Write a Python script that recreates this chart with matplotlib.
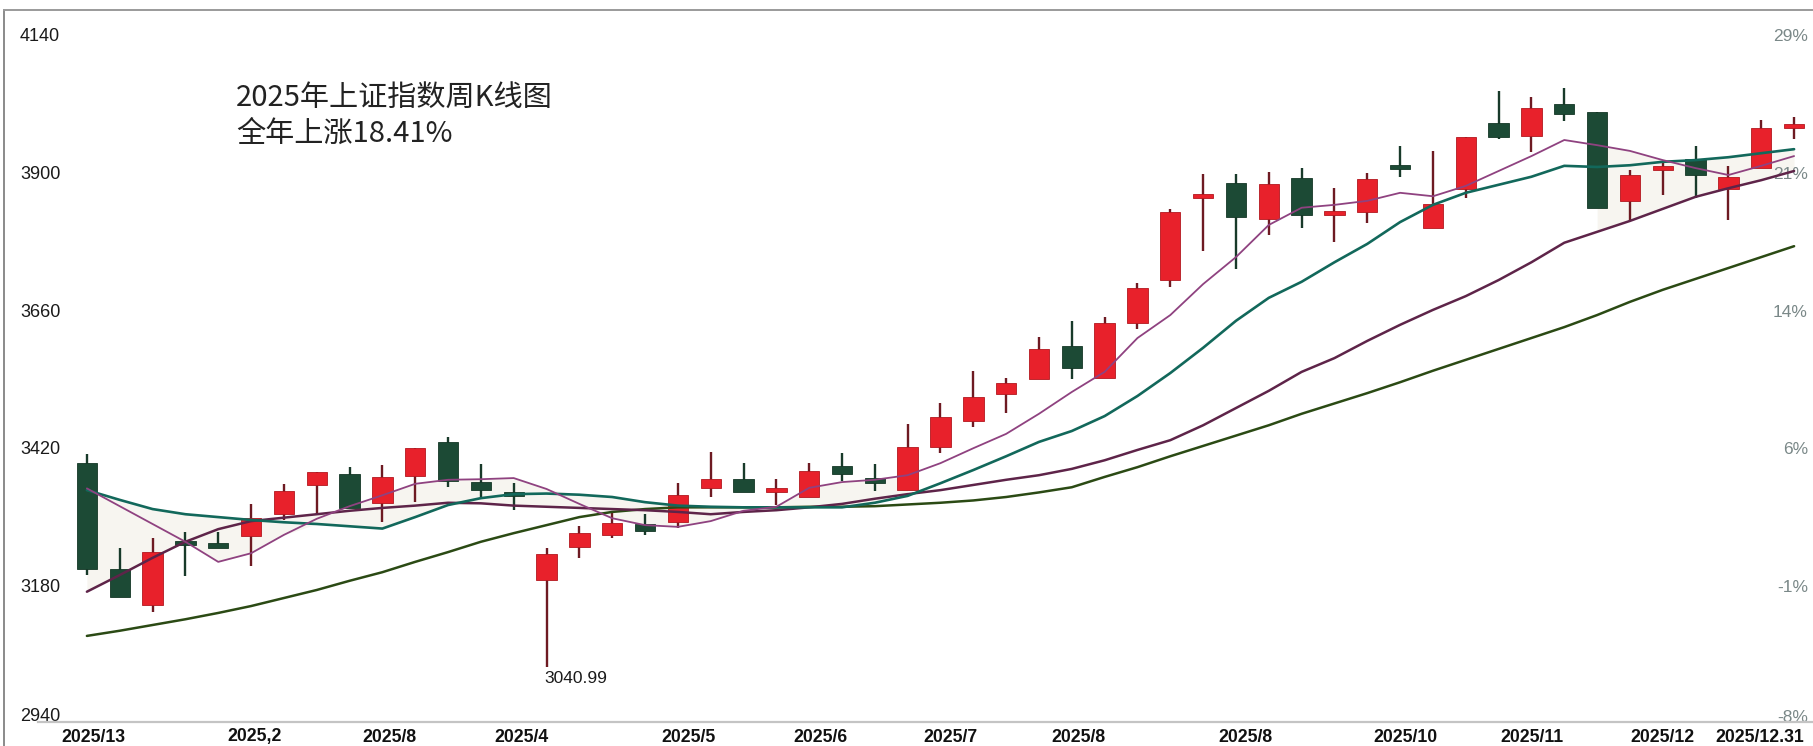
import matplotlib
matplotlib.use("Agg")
import matplotlib.pyplot as plt
import matplotlib.transforms as mtransforms
from matplotlib.patches import Rectangle
from matplotlib.lines import Line2D
import numpy as np

# ---------------- data ----------------
opens = [3396.7, 3213.1, 3149.9, 3258.7, 3257.9, 3270.1, 3308.4, 3358.4, 3377.6, 3327.0,
         3375.1, 3433.8, 3364.1, 3344.1, 3193.4, 3251.4, 3271.8, 3290.5, 3293.9, 3353.2,
         3368.9, 3349.3, 3337.5, 3392.0, 3370.6, 3350.2, 3425.6, 3470.4, 3516.9, 3544.1,
         3601.6, 3545.9, 3640.6, 3716.1, 3861.5, 3885.6, 3821.8, 3893.3, 3831.1, 3834.5,
         3914.2, 3806.7, 3874.6, 3989.1, 3967.5, 4022.2, 4008.8, 3853.7, 3908.6, 3926.4,
         3874.6, 3910.7, 3982.6]
highs = [3412.9, 3248.6, 3266.1, 3277.6, 3277.6, 3325.8, 3360.7, 3381.6, 3390.8, 3394.3,
         3423.9, 3443.1, 3395.5, 3361.9, 3249.7, 3287.5, 3312.4, 3307.9, 3361.9, 3416.9,
         3397.8, 3368.9, 3396.7, 3414.2, 3395.0, 3464.7, 3502.3, 3558.1, 3545.9, 3617.3,
         3644.6, 3652.1, 3711.4, 3839.8, 3900.2, 3900.2, 3903.7, 3911.7, 3876.9, 3903.0,
         3949.5, 3940.3, 3965.7, 4045.9, 4034.4, 4051.1, 4008.8, 3907.7, 3922.2, 3949.5,
         3914.7, 3994.8, 4000.6]
lows = [3202.1, 3164.3, 3138.2, 3200.9, 3249.2, 3217.8, 3297.9, 3308.4, 3319.4, 3295.0,
        3329.8, 3356.0, 3337.5, 3315.4, 3040.99, 3231.2, 3266.1, 3271.8, 3283.5, 3338.5,
        3347.3, 3324.1, 3337.5, 3366.4, 3349.0, 3350.2, 3414.2, 3460.5, 3483.8, 3544.1,
        3543.6, 3545.9, 3630.2, 3704.4, 3766.6, 3734.7, 3794.5, 3807.2, 3781.8, 3815.4,
        3896.0, 3806.7, 3858.4, 3961.2, 3939.6, 3993.6, 3842.0, 3819.4, 3864.2, 3859.5,
        3820.6, 3910.7, 3961.7]
closes = [3212.1, 3164.3, 3242.7, 3256.1, 3249.2, 3302.0, 3349.0, 3381.6, 3319.4, 3373.4,
          3423.9, 3366.4, 3350.2, 3342.4, 3238.2, 3274.8, 3292.2, 3279.3, 3341.5, 3368.9,
          3347.3, 3351.1, 3383.8, 3378.1, 3361.9, 3425.6, 3477.9, 3512.8, 3536.1, 3596.4,
          3562.2, 3640.6, 3701.6, 3834.0, 3864.2, 3825.3, 3883.3, 3829.3, 3833.3, 3891.5,
          3910.7, 3847.9, 3965.7, 3965.7, 4015.2, 4005.3, 3842.0, 3898.9, 3912.4, 3898.9,
          3896.0, 3980.4, 3986.1]

ma5 = [3353, 3322, 3291, 3260, 3225, 3240, 3272, 3300, 3322, 3341,
       3361, 3368, 3369, 3371, 3352, 3326, 3301, 3289, 3286, 3296,
       3314, 3321, 3354, 3364, 3368, 3376, 3397, 3423, 3448, 3483,
       3521, 3556, 3615, 3655, 3709, 3756, 3812, 3842, 3847, 3854,
       3868, 3862, 3880, 3906, 3932, 3960, 3951, 3941, 3925, 3911,
       3899, 3915, 3932]
ma10 = [3350, 3333, 3317, 3308, 3303, 3298, 3294, 3291, 3287, 3283,
        3303, 3324, 3336, 3343, 3344, 3342, 3338, 3329, 3323, 3321,
        3320, 3320, 3320, 3320, 3328, 3340, 3362, 3385, 3409, 3434,
        3453, 3479, 3514, 3554, 3598, 3645, 3685, 3713, 3747, 3779,
        3817, 3847, 3868, 3882, 3896, 3915, 3913, 3916, 3922, 3925,
        3930, 3937, 3944]
ma20 = [3173, 3202, 3232, 3260, 3282, 3296, 3302, 3308, 3314, 3319,
        3323, 3328, 3327, 3323, 3321, 3319, 3317, 3315, 3312, 3308,
        3312, 3315, 3320, 3326, 3335, 3343, 3350, 3359, 3368, 3376,
        3387, 3402, 3420, 3437, 3463, 3493, 3523, 3556, 3580, 3610,
        3638, 3664, 3688, 3716, 3747, 3781, 3800, 3819, 3840, 3861,
        3876, 3890, 3906]
ma60 = [3096, 3105, 3115, 3125, 3136, 3148, 3162, 3176, 3192, 3207,
        3225, 3242, 3260, 3275, 3289, 3303, 3312, 3317, 3320, 3320,
        3320, 3320, 3321, 3321, 3322, 3325, 3328, 3332, 3338, 3346,
        3355, 3373, 3390, 3409, 3427, 3445, 3463, 3483, 3501, 3519,
        3538, 3558, 3577, 3596, 3615, 3634, 3655, 3678, 3699, 3718,
        3737, 3756, 3775]

y_ticks = [4140, 3900, 3660, 3420, 3180, 2940]
y_tick_labels = ["4140", "3900", "3660", "3420", "3180", "2940"]
pct_labels = ["29%", "21%", "14%", "6%", "-1%", "-8%"]
x_labels = ["2025/13", "2025,2", "2025/8", "2025/4", "2025/5", "2025/6", "2025/7",
            "2025/8", "2025/8", "2025/10", "2025/11", "2025/12", "2025/12.31"]
x_label_pos = [0.19, 5.12, 9.20, 13.25, 18.31, 22.33, 26.29, 30.19, 35.28, 40.15,
               44.02, 47.98, 50.96]
title_lines = ["2025年上证指数周K线图", "全年上涨18.41%"]
low_label = "3040.99"

# ---------------- figure ----------------
W, H = 1813, 746
fig = plt.figure(figsize=(W / 100, H / 100), dpi=100)
fig.patch.set_facecolor("white")

ax_top_px, ax_bot_px, ax_left_px = 10, 722, 4
ax = fig.add_axes([ax_left_px / W, 1 - ax_bot_px / H, 1 - ax_left_px / W,
                   (ax_bot_px - ax_top_px) / H])
ax.set_xlim(-2.525, 52.576)
ax.set_ylim(2946.0, 4186.5)
ax.set_axis_off()

num_font = ["Liberation Sans", "DejaVu Sans"]
cjk_font = ["Noto Sans CJK SC", "DejaVu Sans"]

RED = "#e8212b"
RED_EDGE = "#b3171e"
RED_WICK = "#6e1a22"
GREEN = "#1c4a35"
GREEN_EDGE = "#143726"
GREEN_WICK = "#183a2a"

x = np.arange(len(opens))
body_w = 0.62
min_body = 7.0

# light speckled band between averages
ma5a, ma10a, ma20a = np.array(ma5), np.array(ma10), np.array(ma20)
seg1 = slice(0, 26)
ax.fill_between(x[seg1], np.maximum.reduce([ma5a, ma10a, ma20a])[seg1],
                np.minimum.reduce([ma5a, ma10a, ma20a])[seg1],
                color="#f7f5f0", lw=0, zorder=1)
seg2 = slice(46, 53)
ax.fill_between(x[seg2], np.maximum(ma5a, ma10a)[seg2], ma20a[seg2],
                color="#f7f5f0", lw=0, zorder=1)

for i, (o, h, l, c) in enumerate(zip(opens, highs, lows, closes)):
    up = c >= o
    fc = RED if up else GREEN
    ec = RED_EDGE if up else GREEN_EDGE
    wc = RED_WICK if up else GREEN_WICK
    ax.vlines(i, l, h, color=wc, lw=1.7, zorder=2)
    lo, hi = min(o, c), max(o, c)
    if hi - lo < min_body:
        mid = (hi + lo) / 2
        lo, hi = mid - min_body / 2, mid + min_body / 2
    ax.add_patch(Rectangle((i - body_w / 2, lo), body_w, hi - lo, facecolor=fc,
                           edgecolor=ec, lw=0.6, zorder=3))

ax.plot(x, ma60, color="#2b4a14", lw=1.8, zorder=4, solid_capstyle="round")
ax.plot(x, ma20, color="#5e2449", lw=1.8, zorder=4, solid_capstyle="round")
ax.plot(x, ma10, color="#12685b", lw=1.9, zorder=5, solid_capstyle="round")
ax.plot(x, ma5, color="#8f4280", lw=1.3, zorder=6, solid_capstyle="round")

# low annotation
imin = int(np.argmin(lows))
ax.text(imin + 0.9, lows[imin] - 19, low_label, ha="center", va="center",
        fontsize=12.5, family=num_font, color="#1a1a1a", zorder=7)

# y labels (left, inside) and percent labels (right)
tl = mtransforms.blended_transform_factory(fig.transFigure, ax.transData)
for k, (v, lab, pl) in enumerate(zip(y_ticks, y_tick_labels, pct_labels)):
    va = "bottom" if v == min(y_ticks) else "center"
    ax.text(20 / W, v, lab, transform=tl, ha="left", va=va, fontsize=13,
            family=num_font, color="#1a1a1a", zorder=8)
    ax.text(1808 / W, v, pl, transform=tl, ha="right", va=va, fontsize=12.5,
            family=num_font, color="#7a8888", zorder=1.5)

# x labels
tx = mtransforms.blended_transform_factory(ax.transData, fig.transFigure)
for pos, lab in zip(x_label_pos, x_labels):
    ax.text(pos, 1 - 737 / H, lab, transform=tx, ha="center", va="center",
            fontsize=12.7, fontweight="bold", family=num_font, color="#111111",
            clip_on=False)

# title
fig.text(236 / W, 1 - 99 / H, title_lines[0], ha="left", va="center",
         fontsize=21, family=cjk_font, color="#222222")
fig.text(236 / W, 1 - 134 / H, title_lines[1], ha="left", va="center",
         fontsize=21, family=cjk_font, color="#222222")

# frame lines
fig.add_artist(Line2D([ax_left_px / W, ax_left_px / W], [0, 1 - ax_top_px / H],
                      transform=fig.transFigure, color="#8a8a8a", lw=1.4))
fig.add_artist(Line2D([ax_left_px / W, 1], [1 - ax_top_px / H, 1 - ax_top_px / H],
                      transform=fig.transFigure, color="#9a9a9a", lw=1.4))
fig.add_artist(Line2D([38 / W, 1], [1 - ax_bot_px / H, 1 - ax_bot_px / H],
                      transform=fig.transFigure, color="#c4c4c4", lw=1.6))

fig.savefig("out.png", dpi=100, facecolor="white")
